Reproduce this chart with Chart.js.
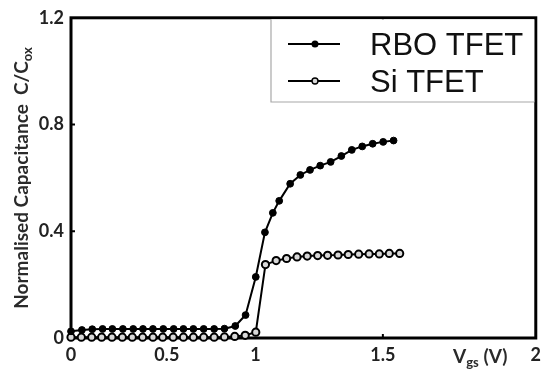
<!DOCTYPE html>
<html>
<head>
<meta charset="utf-8">
<script src="https://cdn.jsdelivr.net/npm/chart.js@4.4.1/dist/chart.umd.min.js"></script>
<style>
  html, body { margin: 0; padding: 0; background: #fff; }
  #wrap { width: 547px; height: 370px; }
</style>
</head>
<body>
<div id="wrap"><canvas id="cv" width="547" height="370"></canvas></div>
<script>
// Gate voltage (V) and normalised capacitance C/Cox for each device
const vgsRbo = [0, 0.057, 0.111, 0.165, 0.216, 0.271, 0.325, 0.376, 0.428, 0.482,
  0.539, 0.594, 0.65, 0.708, 0.767, 0.825, 0.886, 0.944, 1.001, 1.037, 1.068,
  1.093, 1.136, 1.176, 1.214, 1.254, 1.295, 1.337, 1.378, 1.419, 1.46, 1.501, 1.535];
const capRbo = [0.025, 0.03, 0.033, 0.034, 0.034, 0.034, 0.034, 0.034, 0.034, 0.034,
  0.034, 0.034, 0.034, 0.034, 0.034, 0.035, 0.045, 0.086, 0.229, 0.396, 0.469,
  0.514, 0.578, 0.611, 0.63, 0.646, 0.66, 0.682, 0.705, 0.718, 0.728, 0.735, 0.74];

const vgsSi = [0, 0.054, 0.108, 0.16, 0.214, 0.268, 0.32, 0.374, 0.428, 0.479,
  0.536, 0.594, 0.65, 0.708, 0.767, 0.825, 0.883, 0.942, 1.001, 1.039, 1.081,
  1.122, 1.163, 1.203, 1.244, 1.283, 1.324, 1.364, 1.405, 1.446, 1.486, 1.521, 1.555];
const capSi = [0.003, 0.003, 0.003, 0.003, 0.003, 0.003, 0.003, 0.003, 0.003, 0.003,
  0.003, 0.003, 0.003, 0.003, 0.003, 0.004, 0.006, 0.01, 0.022, 0.275, 0.29,
  0.298, 0.304, 0.307, 0.309, 0.31, 0.311, 0.313, 0.314, 0.315, 0.315, 0.317, 0.317];

const xTicks = [0, 0.5, 1, 1.5, 2];
const yTicks = [0, 0.4, 0.8, 1.2];

const seriesNames = ['RBO TFET', 'Si TFET'];

// Voltage axis with unevenly spaced major divisions: each tick value sits at a
// fixed fraction of the axis length and values in between are interpolated.
const AXIS_FRACTIONS = [0, 0.206, 0.397, 0.671, 1];
function valueToFraction(v) {
  const k = xTicks;
  if (v <= k[0]) return AXIS_FRACTIONS[0] + (v - k[0]) / (k[1] - k[0]) * (AXIS_FRACTIONS[1] - AXIS_FRACTIONS[0]);
  for (let i = 1; i < k.length; i++) {
    if (v <= k[i] || i === k.length - 1) {
      const t = (v - k[i - 1]) / (k[i] - k[i - 1]);
      return AXIS_FRACTIONS[i - 1] + t * (AXIS_FRACTIONS[i] - AXIS_FRACTIONS[i - 1]);
    }
  }
}
function fractionToValue(f) {
  const k = xTicks;
  for (let i = 1; i < k.length; i++) {
    if (f <= AXIS_FRACTIONS[i] || i === k.length - 1) {
      const t = (f - AXIS_FRACTIONS[i - 1]) / (AXIS_FRACTIONS[i] - AXIS_FRACTIONS[i - 1]);
      return k[i - 1] + t * (k[i] - k[i - 1]);
    }
  }
}
class PiecewiseScale extends Chart.LinearScale {
  getPixelForValue(value) { return this.getPixelForDecimal(valueToFraction(value)); }
  getValueForPixel(pixel) { return fractionToValue(this.getDecimalForPixel(pixel)); }
}
PiecewiseScale.id = 'piecewise';
PiecewiseScale.defaults = Chart.LinearScale.defaults;
Chart.register(PiecewiseScale);

const LABEL_FONT = 'Lato, "DejaVu Sans", sans-serif';

// draws a sequence of [text, size, baselineShift] runs starting at (x, y)
function drawRuns(ctx, runs, x, y) {
  let cx = x;
  for (const [text, size, shift] of runs) {
    ctx.font = 'bold ' + size + 'px ' + LABEL_FONT;
    ctx.fillText(text, cx, y + shift);
    cx += ctx.measureText(text).width;
  }
}
function runsWidth(ctx, runs) {
  let w = 0;
  for (const [text, size] of runs) {
    ctx.font = 'bold ' + size + 'px ' + LABEL_FONT;
    w += ctx.measureText(text).width;
  }
  return w;
}

const framePlugin = {
  id: 'frame',
  beforeDatasetsDraw(chart) {
    const { ctx, chartArea: a, scales } = chart;
    ctx.save();
    ctx.strokeStyle = '#000';
    ctx.lineWidth = 3;
    ctx.strokeRect(a.left, a.top, a.right - a.left, a.bottom - a.top);
    // short inward tick marks
    ctx.lineWidth = 2;
    ctx.beginPath();
    [0.4, 0.8].forEach(v => {
      const y = scales.y.getPixelForValue(v);
      ctx.moveTo(a.left, y); ctx.lineTo(a.left + 4, y);
    });
    [1.5].forEach(v => {
      const x = scales.x.getPixelForValue(v);
      ctx.moveTo(x, a.bottom); ctx.lineTo(x, a.bottom - 4);
      ctx.moveTo(x, a.top); ctx.lineTo(x, a.top + 4);
    });
    ctx.stroke();
    ctx.restore();
  },
  afterDraw(chart) {
    const { ctx, chartArea: a } = chart;
    ctx.save();
    ctx.fillStyle = '#2a2a2a';
    ctx.textBaseline = 'alphabetic';
    ctx.textAlign = 'left';

    // y axis title, rotated
    const yRuns = [['Normalised Capacitance  C/C', 19, 0], ['ox', 13, 4]];
    const yw = runsWidth(ctx, yRuns);
    ctx.save();
    ctx.translate(28, (332 + 24) / 2);
    ctx.rotate(-Math.PI / 2);
    drawRuns(ctx, yRuns, -yw / 2, 0);
    ctx.restore();

    // x axis title
    drawRuns(ctx, [['V', 19, 0], ['gs', 13, 4], [' (V)', 19, 0]], 453, 363);

    // legend box
    const lx = 271, ly = a.top, lw = a.right - 271, lh = 102 - a.top;
    ctx.fillStyle = '#fff';
    ctx.fillRect(lx, ly + 1.5, lw - 1.5, lh - 1.5);
    ctx.strokeStyle = '#a8a8a8';
    ctx.lineWidth = 1.2;
    ctx.beginPath();
    ctx.moveTo(lx, ly + 1.5); ctx.lineTo(lx, ly + lh); ctx.lineTo(a.right - 1.5, ly + lh);
    ctx.stroke();

    const rows = [44, 81];
    chart.data.datasets.forEach((ds, i) => {
      const y = rows[i];
      ctx.strokeStyle = '#000';
      ctx.lineWidth = 1.8;
      ctx.beginPath(); ctx.moveTo(288, y); ctx.lineTo(340, y); ctx.stroke();
      ctx.beginPath();
      ctx.arc(315, y, i === 0 ? 2.8 : 3, 0, Math.PI * 2);
      ctx.fillStyle = ds.pointBackgroundColor;
      ctx.fill();
      ctx.lineWidth = 1.4;
      ctx.stroke();
      ctx.fillStyle = '#111';
      ctx.font = '31px "Liberation Sans", Arial, sans-serif';
      ctx.fillText(ds.label, 370, y + 11);
    });
    ctx.restore();
  }
};

new Chart(document.getElementById('cv'), {
  type: 'line',
  data: {
    datasets: [
      {
        label: seriesNames[0],
        data: vgsRbo.map((v, i) => ({ x: v, y: capRbo[i] })),
        borderColor: '#000',
        borderWidth: 2,
        pointRadius: 3.4,
        pointBackgroundColor: '#000',
        pointBorderColor: '#000',
        pointBorderWidth: 1,
        tension: 0,
        clip: false
      },
      {
        label: seriesNames[1],
        data: vgsSi.map((v, i) => ({ x: v, y: capSi[i] })),
        borderColor: '#000',
        borderWidth: 2,
        pointRadius: 3.6,
        pointBackgroundColor: '#d8d8d8',
        pointBorderColor: '#000',
        pointBorderWidth: 2,
        tension: 0,
        clip: false
      }
    ]
  },
  options: {
    responsive: false,
    animation: false,
    layout: { padding: { left: 0, top: 17, right: 5, bottom: 0 } },
    plugins: { legend: { display: false }, tooltip: { enabled: false } },
    scales: {
      x: {
        type: 'piecewise',
        min: 0, max: 2,
        afterBuildTicks: s => { s.ticks = xTicks.map(v => ({ value: v })); },
        afterFit: s => { s.height = 32; },
        grid: { display: false, drawTicks: false },
        border: { display: false },
        ticks: {
          padding: 6,
          color: '#222',
          font: { family: LABEL_FONT, size: 18, weight: 'bold' },
          maxRotation: 0,
          autoSkip: false,
          callback: v => String(v)
        }
      },
      y: {
        type: 'linear',
        min: 0, max: 1.2,
        afterBuildTicks: s => { s.ticks = yTicks.map(v => ({ value: v })); },
        afterFit: s => { s.width = 71; },
        grid: { display: false, drawTicks: false },
        border: { display: false },
        ticks: {
          padding: 7,
          color: '#222',
          font: { family: LABEL_FONT, size: 18, weight: 'bold' },
          callback: v => String(v)
        }
      }
    }
  },
  plugins: [framePlugin]
});
</script>
</body>
</html>
